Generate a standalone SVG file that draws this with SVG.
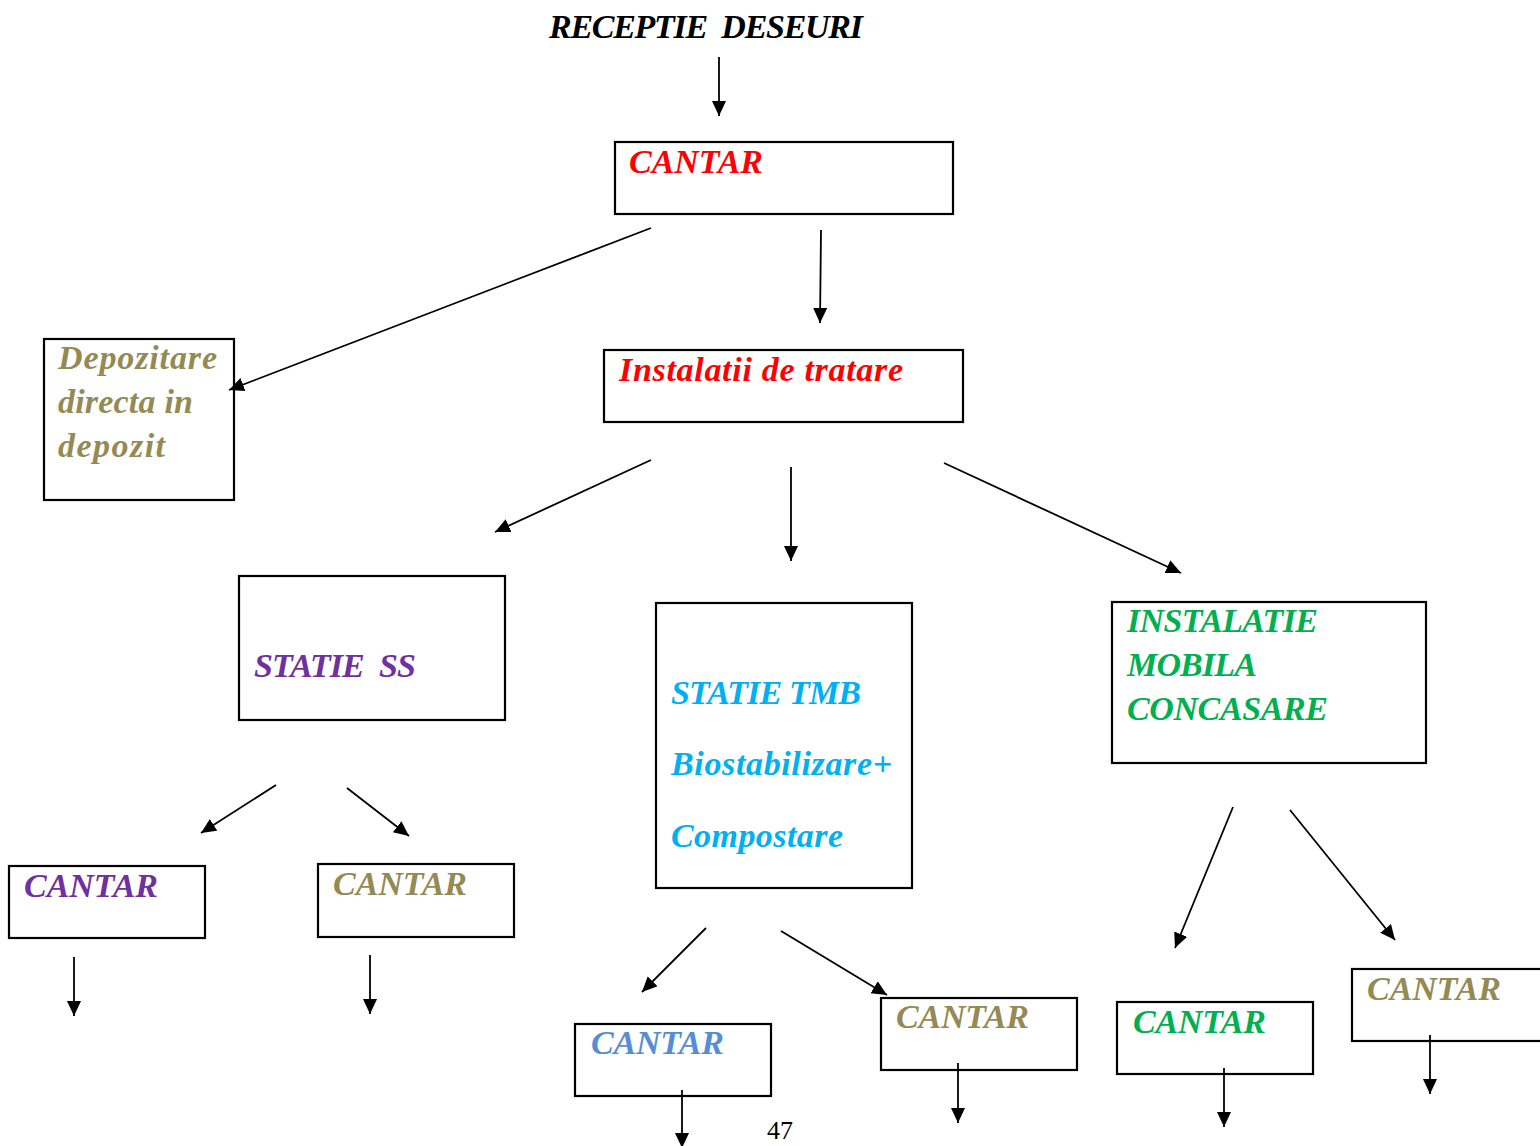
<svg xmlns="http://www.w3.org/2000/svg" width="1540" height="1146" viewBox="0 0 1540 1146">
<style>
.box{fill:#fff;stroke:#000;stroke-width:2.2}
.t{font-family:"Liberation Serif","Times New Roman",serif;font-style:italic;font-weight:bold;font-size:34px}
.c{font-family:"Liberation Serif","Times New Roman",serif;font-style:italic;font-weight:bold;font-size:34px}
.red{fill:#FF0000}.tan{fill:#948A54}.pur{fill:#7030A0}.cya{fill:#00B0F0}.grn{fill:#00B050}.blu{fill:#558ED5}
.conn line{stroke:#000;stroke-width:1.8;marker-end:url(#ah)}
</style>
<defs>
<marker id="ah" markerUnits="userSpaceOnUse" markerWidth="18" markerHeight="16" refX="15" refY="7" orient="auto">
<path d="M0,0 L15,7 L0,14 Z" fill="#000"/>
</marker>
</defs>
<rect width="1540" height="1146" fill="#fff"/>
<g id="title"><text class="t" x="549" y="38" fill="#000" style="white-space:pre" textLength="314" lengthAdjust="spacing">RECEPTIE  DESEURI</text></g>
<g id="cantar-main"><rect class="box" x="615" y="142" width="338" height="72"/><text class="c red" x="629" y="173" font-weight="normal" textLength="134" lengthAdjust="spacing">CANTAR</text></g>
<g id="depozitare"><rect class="box" x="44" y="339" width="190" height="161"/>
<text class="t tan" x="58" y="369" textLength="159" lengthAdjust="spacing">Depozitare</text>
<text class="t tan" x="58" y="413" textLength="135" lengthAdjust="spacing">directa in</text>
<text class="t tan" x="58" y="457" textLength="107" lengthAdjust="spacing">depozit</text></g>
<g id="instalatii"><rect class="box" x="604" y="350" width="359" height="72"/><text class="t red" x="619" y="381" textLength="284" lengthAdjust="spacing">Instalatii de tratare</text></g>
<g id="statie-ss"><rect class="box" x="239" y="576" width="266" height="144"/><text class="t pur" x="254" y="677" style="white-space:pre" textLength="162" lengthAdjust="spacing">STATIE  SS</text></g>
<g id="statie-tmb"><rect class="box" x="656" y="603" width="256" height="285"/>
<text class="t cya" x="671" y="704" textLength="190" lengthAdjust="spacing">STATIE TMB</text>
<text class="t cya" x="671" y="775" textLength="221" lengthAdjust="spacing">Biostabilizare+</text>
<text class="t cya" x="671" y="847" textLength="172" lengthAdjust="spacing">Compostare</text></g>
<g id="instalatie-mobila"><rect class="box" x="1112" y="602" width="314" height="161"/>
<text class="t grn" x="1127" y="632" textLength="191" lengthAdjust="spacing">INSTALATIE</text>
<text class="t grn" x="1127" y="676" textLength="130" lengthAdjust="spacing">MOBILA</text>
<text class="t grn" x="1127" y="720" textLength="201" lengthAdjust="spacing">CONCASARE</text></g>
<g id="cantar-ss1"><rect class="box" x="9" y="866" width="196" height="72"/><text class="c pur" x="24" y="897" textLength="134" lengthAdjust="spacing">CANTAR</text></g>
<g id="cantar-ss2"><rect class="box" x="318" y="864" width="196" height="73"/><text class="c tan" x="333" y="895" textLength="134" lengthAdjust="spacing">CANTAR</text></g>
<g id="cantar-tmb1"><rect class="box" x="575" y="1024" width="196" height="72"/><text class="c blu" x="591" y="1054" textLength="133" lengthAdjust="spacing">CANTAR</text></g>
<g id="cantar-tmb2"><rect class="box" x="881" y="998" width="196" height="72"/><text class="c tan" x="896" y="1028" textLength="133" lengthAdjust="spacing">CANTAR</text></g>
<g id="cantar-im1"><rect class="box" x="1117" y="1002" width="196" height="72"/><text class="c grn" x="1133" y="1033" textLength="133" lengthAdjust="spacing">CANTAR</text></g>
<g id="cantar-im2"><rect class="box" x="1352" y="969" width="196" height="72"/><text class="c tan" x="1367" y="1000" textLength="134" lengthAdjust="spacing">CANTAR</text></g>
<g id="page-number"><text x="767" y="1139" font-family="Liberation Serif, serif" font-size="26" fill="#000">47</text></g>
<g class="conn" id="connectors">
<line x1="719" y1="57" x2="719" y2="116"/>
<line x1="651" y1="228" x2="229" y2="390"/>
<line x1="821" y1="230" x2="820" y2="323"/>
<line x1="651" y1="460" x2="495" y2="532"/>
<line x1="791" y1="467" x2="791" y2="561"/>
<line x1="944" y1="463" x2="1181" y2="573"/>
<line x1="276" y1="785" x2="201" y2="833"/>
<line x1="347" y1="788" x2="409" y2="836"/>
<line x1="74" y1="957" x2="74" y2="1016"/>
<line x1="370" y1="955" x2="370" y2="1014"/>
<line x1="706" y1="928" x2="642" y2="992"/>
<line x1="781" y1="931" x2="887" y2="995"/>
<line x1="682" y1="1090" x2="682" y2="1148"/>
<line x1="958" y1="1063" x2="958" y2="1123"/>
<line x1="1233" y1="807" x2="1175" y2="948"/>
<line x1="1290" y1="810" x2="1395" y2="940"/>
<line x1="1224" y1="1068" x2="1224" y2="1127"/>
<line x1="1430" y1="1035" x2="1430" y2="1094"/>
</g>
</svg>
